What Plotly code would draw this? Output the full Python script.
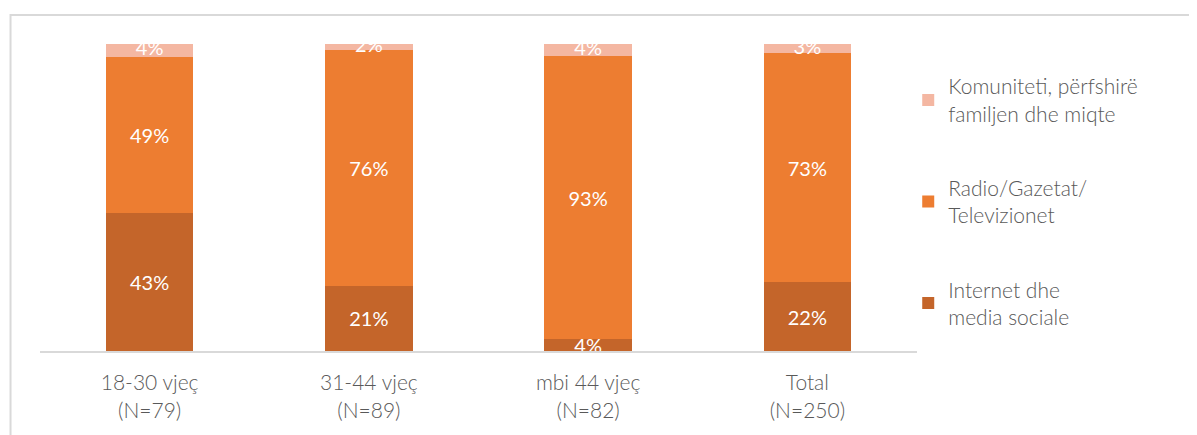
import plotly.graph_objects as go

categories = ["18-30 vjeç<br>(N=79)", "31-44 vjeç<br>(N=89)", "mbi 44 vjeç<br>(N=82)", "Total<br>(N=250)"]
internet = [43, 21, 4, 22]
radio = [49, 76, 93, 73]
komuniteti = [4, 2, 4, 3]

series = [
    ("Internet dhe<br>media sociale", internet, "#C4652A", 3),
    ("Radio/Gazetat/<br>Televizionet", radio, "#ED7D31", 2),
    ("Komuniteti, përfshirë<br>familjen dhe miqte", komuniteti, "#F4B7A2", 1),
]

FONT = "Lato"
fig = go.Figure()
for i, (name, vals, col, rank) in enumerate(series):
    is_top = (i == 2)
    fig.add_trace(go.Bar(
        x=categories, y=vals, name=name,
        marker=dict(color=col, line=dict(width=0)),
        text=None if is_top else [f"{v}%" for v in vals],
        textposition="none" if is_top else "inside",
        insidetextanchor="middle", textangle=0, constraintext="none",
        insidetextfont=dict(color="white", size=20, family=FONT, weight=400),
        legendgroup=str(i), legendrank=rank,
        cliponaxis=False,
    ))

# labels for the thin top segment, placed at the centre of that segment
totals = [a + b + c for a, b, c in zip(internet, radio, komuniteti)]
kom_mid = [100 - 50 * k / t for k, t in zip(komuniteti, totals)]
fig.add_trace(go.Scatter(
    x=categories, y=kom_mid, mode="text",
    text=[f"{v}%" for v in komuniteti],
    textfont=dict(color="white", size=20, family=FONT, weight=400),
    showlegend=False, hoverinfo="skip", cliponaxis=False,
))

fig.update_layout(
    width=1197, height=435,
    barmode="stack", barnorm="percent", bargap=0.6,
    plot_bgcolor="white", paper_bgcolor="white",
    margin=dict(l=32, r=288, t=36, b=92),
    font=dict(family=FONT, color="#595959", size=21, weight=300),
    showlegend=True,
    legend=dict(
        x=0.99, xanchor="left", y=0.928, yanchor="top",
        traceorder="grouped", tracegroupgap=44,
        font=dict(size=21, color="#595959", family=FONT, weight=300),
        itemwidth=30,
    ),
    xaxis=dict(showline=True, linecolor="#D9D9D9", linewidth=2, ticks="",
               ticklabelstandoff=12,
               tickfont=dict(size=21, color="#595959", family=FONT, weight=300)),
    yaxis=dict(range=[0, 100], visible=False, showgrid=False),
)
fig.add_shape(type="rect", xref="paper", yref="paper",
              x0=-0.0336, y0=-2, x1=2, y1=1.0945,
              line=dict(color="#D9D9D9", width=2), layer="below")

fig.write_html("out.html")
